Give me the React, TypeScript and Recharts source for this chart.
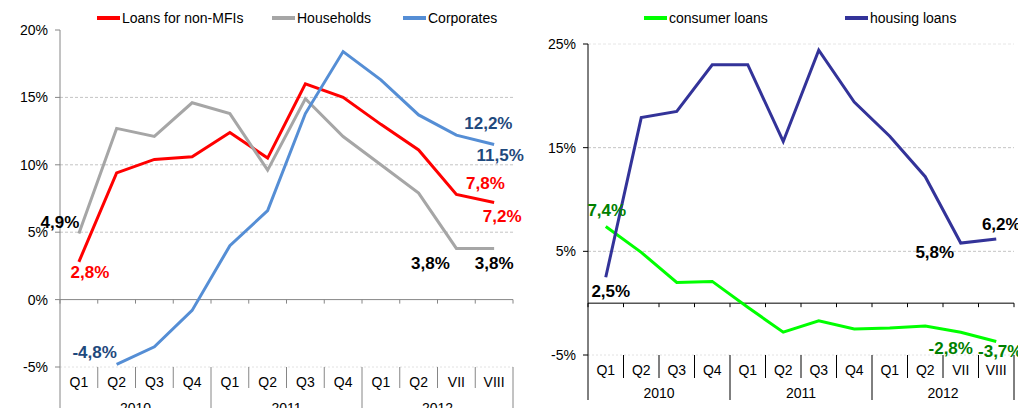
import React from 'react';
import { LineChart, Line, XAxis, YAxis, ReferenceLine, LabelList, Legend } from 'recharts';

// ---------- data ----------
const quarters = ['Q1', 'Q2', 'Q3', 'Q4', 'Q1', 'Q2', 'Q3', 'Q4', 'Q1', 'Q2', 'VII', 'VIII'];
const years = ['2010', '2010', '2010', '2010', '2011', '2011', '2011', '2011', '2012', '2012', '2012', '2012'];

const loansNonMFI = [2.8, 9.4, 10.4, 10.6, 12.4, 10.5, 16.0, 15.0, 13.0, 11.1, 7.8, 7.2];
const households = [4.9, 12.7, 12.1, 14.6, 13.8, 9.6, 14.9, 12.1, 10.0, 7.9, 3.8, 3.8];
const corporates = [null, -4.8, -3.5, -0.8, 4.0, 6.6, 13.8, 18.4, 16.3, 13.7, 12.2, 11.5];

const consumerLoans = [7.4, 4.9, 2.0, 2.1, -0.4, -2.8, -1.7, -2.5, -2.4, -2.2, -2.8, -3.7];
const housingLoans = [2.5, 17.9, 18.5, 23.0, 23.0, 15.6, 24.4, 19.4, 16.1, 12.2, 5.8, 6.2];

const leftTicks = [-5, 0, 5, 10, 15, 20];
const leftGrid = [5, 10, 15];
const rightTicks = [-5, 5, 15, 25];
const rightGrid = [5, 15, 25];

const leftNames = ['Loans for non-MFIs', 'Households', 'Corporates'];
const rightNames = ['consumer loans', 'housing loans'];

const leftData = quarters.map((q, i) => ({
  cat: q,
  year: years[i],
  loans: loansNonMFI[i],
  households: households[i],
  corporates: corporates[i],
}));

const rightData = quarters.map((q, i) => ({
  cat: q,
  year: years[i],
  consumer: consumerLoans[i],
  housing: housingLoans[i],
}));

// ---------- styling / layout ----------
const FONT = '"Liberation Sans", Arial, Helvetica, sans-serif';

const L_W = 540;
const L_H = 408;
const L_PLOT_W = 453;
const L_PLOT_H = 337;
const L_BAND = L_PLOT_W / quarters.length;
const R_W = 478;
const R_H = 408;
const R_PLOT_W = 426;
const R_PLOT_H = 311;
const R_BAND = R_PLOT_W / quarters.length;

const fmt = (v: number) => v.toFixed(1).replace('.', ',') + '%';

type LabelCfg = { i: number; dx: number; dy: number };

const makeLabel = (cfg: LabelCfg[], color: string) => (props: any) => {
  const x = props.x ?? props.viewBox?.x;
  const y = props.y ?? props.viewBox?.y;
  const { index, value } = props;
  const c = cfg.find((k) => k.i === index);
  if (!c || value == null || x == null || y == null) return null;
  return (
    <text
      key={`lbl-${index}`}
      x={x + c.dx}
      y={y + c.dy}
      textAnchor="middle"
      dominantBaseline="central"
      fill={color}
      fontSize={17}
      fontWeight="bold"
      fontFamily={FONT}
    >
      {fmt(Number(value))}
    </text>
  );
};

const makeCatTick =
  (band: number, zeroDy: number, labelDy: number, yearDy: number, shortLen: number, longLen: number, color: string) =>
  (props: any) => {
    const { x, y, index, payload } = props;
    const left = x - band / 2;
    const right = x + band / 2;
    const isYearStart = index === 0 || years[index] !== years[index - 1];
    const isLast = index === quarters.length - 1;
    let yearLabel = null;
    if (isYearStart) {
      let n = 0;
      while (index + n < years.length && years[index + n] === years[index]) n++;
      yearLabel = (
        <text x={left + (band * n) / 2} y={y + yearDy} textAnchor="middle" fontSize={14} fill="#000" fontFamily={FONT}>
          {years[index]}
        </text>
      );
    }
    return (
      <g>
        <line x1={left} x2={left} y1={y} y2={y + (isYearStart ? longLen : shortLen)} stroke={color} strokeWidth={1} />
        {isLast && <line x1={right} x2={right} y1={y} y2={y + longLen} stroke={color} strokeWidth={1} />}
        <line x1={left} x2={left} y1={y - zeroDy} y2={y - zeroDy + 4} stroke={color} strokeWidth={1} />
        {isLast && <line x1={right} x2={right} y1={y - zeroDy} y2={y - zeroDy + 4} stroke={color} strokeWidth={1} />}
        <text x={x} y={y + labelDy} textAnchor="middle" fontSize={14} fill="#000" fontFamily={FONT}>
          {payload.value}
        </text>
        {yearLabel}
      </g>
    );
  };

const makeLegend = (order: string[], positions: number[]) => (props: any) => {
  const payload = [...(props.payload || [])].sort(
    (a: any, b: any) => order.indexOf(a.value) - order.indexOf(b.value)
  );
  return (
    <div style={{ position: 'relative', width: '100%', height: 30, fontFamily: FONT }}>
      {payload.map((p: any, i: number) => (
        <div
          key={p.value}
          style={{ position: 'absolute', left: positions[i], top: 10, display: 'flex', alignItems: 'center', whiteSpace: 'nowrap' }}
        >
          <span style={{ display: 'inline-block', width: 23, height: 4, background: p.color }} />
          <span style={{ marginLeft: 2, fontSize: 14, color: '#000', lineHeight: '16px' }}>{p.value}</span>
        </div>
      ))}
    </div>
  );
};

const leftLabels: Record<string, LabelCfg[]> = {
  loans: [
    { i: 0, dx: 11, dy: 11 },
    { i: 10, dx: 29, dy: -11 },
    { i: 11, dx: 8, dy: 14 },
  ],
  households: [
    { i: 0, dx: -19, dy: -11 },
    { i: 10, dx: -26, dy: 15 },
    { i: 11, dx: 0, dy: 15 },
  ],
  corporates: [
    { i: 1, dx: -22, dy: -12 },
    { i: 10, dx: 32, dy: -12 },
    { i: 11, dx: 6, dy: 11 },
  ],
};

const rightLabels: Record<string, LabelCfg[]> = {
  consumer: [
    { i: 0, dx: 1, dy: -16 },
    { i: 10, dx: -10, dy: 16 },
    { i: 11, dx: 4, dy: 10 },
  ],
  housing: [
    { i: 0, dx: 5, dy: 14 },
    { i: 10, dx: -26, dy: 9 },
    { i: 11, dx: 5, dy: -14 },
  ],
};

const LeftChart = () => (
  <LineChart width={L_W} height={L_H} data={leftData} margin={{ top: 30, right: 27, bottom: 0, left: 0 }}>
    <XAxis
      dataKey="cat"
      interval={0}
      axisLine={false}
      tickLine={false}
      tickSize={0}
      tickMargin={0}
      height={41}
      padding={{ left: L_BAND / 2, right: L_BAND / 2 }}
      tick={makeCatTick(L_BAND, (5 * L_PLOT_H) / 25, 19.5, 46, 21, 50, '#868686')}
    />
    <YAxis
      width={60}
      domain={[-5, 20]}
      ticks={leftTicks}
      interval={0}
      tickFormatter={(v: number) => `${v}%`}
      tick={{ fontSize: 14, fill: '#000', fontFamily: FONT }}
      axisLine={{ stroke: '#868686' }}
      tickLine={{ stroke: '#868686' }}
      tickSize={5}
      tickMargin={7}
    />
    <ReferenceLine y={-5} stroke="#E2E2E2" strokeDasharray="2 2" />
    {leftGrid.map((g) => (
      <ReferenceLine key={g} y={g} stroke="#C4C4C4" strokeDasharray="3 2" />
    ))}
    <ReferenceLine y={0} stroke="#868686" strokeWidth={1} />
    <Legend
      layout="horizontal"
      verticalAlign="middle"
      align="center"
      wrapperStyle={{ top: 0, left: 0, width: L_W, height: 30 }}
      content={makeLegend(leftNames, [97, 272, 403])}
    />
    <Line name={leftNames[0]} dataKey="loans" stroke="#FF0000" strokeWidth={3} dot={false} isAnimationActive={false}>
      <LabelList dataKey="loans" content={makeLabel(leftLabels.loans, '#FF0000')} />
    </Line>
    <Line name={leftNames[1]} dataKey="households" stroke="#A6A6A6" strokeWidth={3} dot={false} isAnimationActive={false}>
      <LabelList dataKey="households" content={makeLabel(leftLabels.households, '#000000')} />
    </Line>
    <Line name={leftNames[2]} dataKey="corporates" stroke="#558ED5" strokeWidth={3} dot={false} isAnimationActive={false}>
      <LabelList dataKey="corporates" content={makeLabel(leftLabels.corporates, '#1F497D')} />
    </Line>
  </LineChart>
);

const RightChart = () => (
  <LineChart width={R_W} height={R_H} data={rightData} margin={{ top: 44, right: 4, bottom: 0, left: 0 }}>
    <XAxis
      dataKey="cat"
      interval={0}
      axisLine={false}
      tickLine={false}
      tickSize={0}
      tickMargin={0}
      height={53}
      padding={{ left: R_BAND / 2, right: R_BAND / 2 }}
      tick={makeCatTick(R_BAND, (5 * R_PLOT_H) / 30, 19.5, 42.5, 23, 45, '#000000')}
    />
    <YAxis
      width={48}
      domain={[-5, 25]}
      ticks={rightTicks}
      interval={0}
      tickFormatter={(v: number) => `${v}%`}
      tick={{ fontSize: 14, fill: '#000', fontFamily: FONT }}
      axisLine={{ stroke: '#000' }}
      tickLine={{ stroke: '#000' }}
      tickSize={5}
      tickMargin={7}
    />
    <ReferenceLine y={-5} stroke="#E2E2E2" strokeDasharray="2 2" />
    {rightGrid.map((g) => (
      <ReferenceLine key={g} y={g} stroke={g === 25 ? '#E6E6E6' : '#C4C4C4'} strokeDasharray="3 2" />
    ))}
    <ReferenceLine y={0} stroke="#000" strokeWidth={1} />
    <Legend
      layout="horizontal"
      verticalAlign="middle"
      align="center"
      wrapperStyle={{ top: 0, left: 0, width: R_W, height: 30 }}
      content={makeLegend(rightNames, [104, 305])}
    />
    <Line name={rightNames[0]} dataKey="consumer" stroke="#00FF00" strokeWidth={3} dot={false} isAnimationActive={false}>
      <LabelList dataKey="consumer" content={makeLabel(rightLabels.consumer, '#008000')} />
    </Line>
    <Line name={rightNames[1]} dataKey="housing" stroke="#333399" strokeWidth={3} dot={false} isAnimationActive={false}>
      <LabelList dataKey="housing" content={makeLabel(rightLabels.housing, '#000000')} />
    </Line>
  </LineChart>
);

export default function App() {
  return (
    <div
      style={{
        position: 'absolute',
        left: 0,
        top: 0,
        width: 1018,
        height: 408,
        overflow: 'hidden',
        background: '#fff',
        fontFamily: FONT,
      }}
    >
      <div style={{ position: 'absolute', left: 0, top: 0 }}>
        <LeftChart />
      </div>
      <div style={{ position: 'absolute', left: 540, top: 0 }}>
        <RightChart />
      </div>
    </div>
  );
}
